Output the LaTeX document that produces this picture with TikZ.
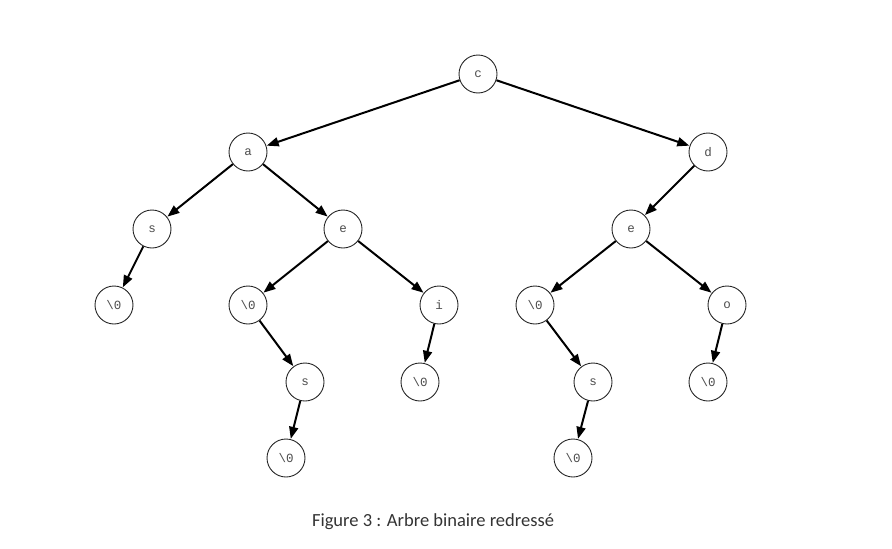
\documentclass[tikz,border=0pt]{standalone}
\usepackage{fontspec}
\setmainfont{Carlito}
\newfontfamily\nodefont{Liberation Mono}
\usetikzlibrary{arrows.meta}
\begin{document}
\begin{tikzpicture}[x=1pt,y=-1pt,
  tn/.style={circle,draw=black!85,line width=0.9pt,minimum size=38pt,inner sep=0pt,font=\nodefont\fontsize{12.5}{14}\selectfont,text=black!70},
  ed/.style={line width=2pt,-{Triangle[length=12pt,width=9pt]},shorten >=0.3pt}]
\useasboundingbox (0,0) rectangle (892,549);
\node[tn] (c) at (478,74) {c};
\node[tn] (a) at (248,152) {a};
\node[tn] (d) at (708,152) {d};
\node[tn] (s1) at (152,229) {s};
\node[tn] (e1) at (343,229) {e};
\node[tn] (e2) at (631,229) {e};
\node[tn] (z1) at (114,305) {\textbackslash 0};
\node[tn] (z2) at (248,305) {\textbackslash 0};
\node[tn] (i) at (439,305) {i};
\node[tn] (z3) at (535,305) {\textbackslash 0};
\node[tn] (o) at (727,305) {o};
\node[tn] (s2) at (305,382) {s};
\node[tn] (z4) at (420,382) {\textbackslash 0};
\node[tn] (s3) at (593,382) {s};
\node[tn] (z5) at (708,382) {\textbackslash 0};
\node[tn] (z6) at (286,458) {\textbackslash 0};
\node[tn] (z7) at (573,458) {\textbackslash 0};
\draw[ed] (c) -- (a);
\draw[ed] (c) -- (d);
\draw[ed] (a) -- (s1);
\draw[ed] (a) -- (e1);
\draw[ed] (d) -- (e2);
\draw[ed] (s1) -- (z1);
\draw[ed] (e1) -- (z2);
\draw[ed] (e1) -- (i);
\draw[ed] (e2) -- (z3);
\draw[ed] (e2) -- (o);
\draw[ed] (z2) -- (s2);
\draw[ed] (i) -- (z4);
\draw[ed] (z3) -- (s3);
\draw[ed] (o) -- (z5);
\draw[ed] (s2) -- (z6);
\draw[ed] (s3) -- (z7);
\node[font=\fontsize{18.5}{22}\selectfont,text=black!80] (cap) at (433,522) {Figure 3 : Arbre binaire redressé};
\end{tikzpicture}
\end{document}
